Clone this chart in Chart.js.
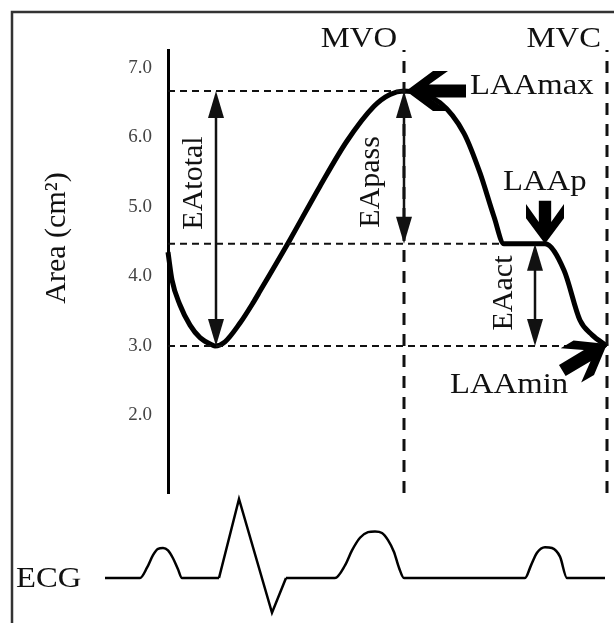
<!DOCTYPE html>
<html>
<head>
<meta charset="utf-8">
<script src="https://cdn.jsdelivr.net/npm/chart.js@4.4.0/dist/chart.umd.min.js"></script>
<style>
  body { margin: 0; background: #fff; }
  canvas { display: block; }
</style>
</head>
<body>
<canvas id="chart" width="614" height="623"></canvas>
<script>
// left atrial area over one cycle (time in arbitrary units, 0 = y axis)
const areaTime = [0, 4, 12, 22, 32, 45, 47, 57, 72, 85, 92, 122, 152, 179, 206, 222, 236, 272, 296, 312, 326, 336, 377, 396, 412, 424, 439];
const areaValues = [4.35, 3.95, 3.59, 3.30, 3.12, 3.01, 3.00, 3.06, 3.33, 3.62, 3.79, 4.53, 5.30, 5.95, 6.45, 6.62, 6.67, 6.50, 6.06, 5.49, 4.86, 4.47, 4.47, 4.09, 3.37, 3.16, 3.00];

const yTickValues = [2, 3, 4, 5, 6, 7];

// reference levels (dashed horizontals)
const levelNames = ['LAAmax', 'LAAp', 'LAAmin'];
const levelValues = [6.67, 4.47, 3.0];
const levelEnds = [236, 336, 439];

// valve events (dashed verticals)
const markerNames = ['MVO', 'MVC'];
const markerTimes = [236, 439];

// emptying spans (double arrows)
const spanNames = ['EAtotal', 'EApass', 'EAact'];
const spanTimes = [48, 236, 367];
const spanTop = [6.67, 6.67, 4.47];
const spanBottom = [3.0, 4.47, 3.0];

// ECG trace (mV), null = gap where the QRS goes
const ecgTime = [-63, -28, -21, -15, -10, -5, 0, 5, 10, 14, 51, 85, 118, 167, 177, 184, 192, 200, 207, 214, 220, 226, 231, 236, 357, 363, 369, 377, 384, 392, 399, 437];
const ecgMv = [0, 0, 0.13, 0.29, 0.37, 0.38, 0.35, 0.25, 0.11, 0, 0, null, 0, 0, 0.16, 0.35, 0.51, 0.58, 0.59, 0.57, 0.48, 0.33, 0.13, 0, 0, 0.16, 0.32, 0.39, 0.38, 0.27, 0, 0];
const qrsTime = [51, 71, 104, 118];
const qrsMv = [0, 1.0, -0.44, 0];

const serif = '"Liberation Serif", "Times New Roman", serif';
const ink = '#111';

function pts(xs, ys) {
  return xs.map((x, i) => ({x: x, y: ys[i]}));
}

let datasets = [];

for (let i = 0; i < levelValues.length; i++) {
  datasets.push({
    label: levelNames[i],
    data: pts([0, levelEnds[i]], [levelValues[i], levelValues[i]]),
    borderColor: ink,
    borderWidth: 2,
    borderDash: [7, 5],
    pointRadius: 0,
    clip: false
  });
}

for (let i = 0; i < markerTimes.length; i++) {
  datasets.push({
    label: markerNames[i],
    data: pts([markerTimes[i], markerTimes[i]], [0.885, 7.259]),
    borderColor: ink,
    borderWidth: 3,
    borderDash: [12, 9],
    pointRadius: 0,
    clip: false
  });
}

datasets.push({
  label: 'Area',
  data: pts(areaTime, areaValues),
  borderColor: '#000',
  borderWidth: 5,
  cubicInterpolationMode: 'monotone',
  pointRadius: 0,
  clip: false
});

datasets.push({
  label: 'ECG',
  data: pts(ecgTime, ecgMv),
  yAxisID: 'yEcg',
  borderColor: '#000',
  borderWidth: 2.5,
  cubicInterpolationMode: 'monotone',
  spanGaps: false,
  pointRadius: 0,
  clip: false
});

datasets.push({
  label: 'QRS',
  data: pts(qrsTime, qrsMv),
  yAxisID: 'yEcg',
  borderColor: '#000',
  borderWidth: 2.5,
  borderJoinStyle: 'miter',
  tension: 0,
  pointRadius: 0,
  clip: false
});

function hText(ctx, text, x, y, align) {
  ctx.save();
  ctx.translate(x, y);
  ctx.scale(1.09, 1);
  ctx.textAlign = align || 'left';
  ctx.textBaseline = 'alphabetic';
  ctx.fillText(text, 0, 0);
  ctx.restore();
}

function vText(ctx, text, x, y) {
  ctx.save();
  ctx.translate(x, y);
  ctx.rotate(-Math.PI / 2);
  ctx.textAlign = 'center';
  ctx.textBaseline = 'alphabetic';
  ctx.fillText(text, 0, 0);
  ctx.restore();
}

function head(ctx, x, y, dir) {
  ctx.beginPath();
  ctx.moveTo(x, y);
  ctx.lineTo(x - 8, y + dir * 27);
  ctx.lineTo(x + 8, y + dir * 27);
  ctx.closePath();
  ctx.fill();
}

function doubleArrow(ctx, x, y1, y2) {
  ctx.lineWidth = 2.5;
  ctx.beginPath();
  ctx.moveTo(x, y1 + 10);
  ctx.lineTo(x, y2 - 10);
  ctx.stroke();
  head(ctx, x, y1, 1);
  head(ctx, x, y2, -1);
}

// fat arrow, tip at (x, y), tail going off in direction ang
function bigArrow(ctx, x, y, ang, len, s) {
  const shape = [[0, 0], [27, -20], [42, -20], [23, -6.5], [len / s, -6.5], [len / s, 6.5], [23, 6.5], [42, 20], [27, 20]];
  ctx.save();
  ctx.translate(x, y);
  ctx.rotate(ang);
  ctx.scale(s, s);
  ctx.beginPath();
  shape.forEach((p, i) => i ? ctx.lineTo(p[0], p[1]) : ctx.moveTo(p[0], p[1]));
  ctx.closePath();
  ctx.fill();
  ctx.restore();
}

const annotations = {
  id: 'annotations',
  beforeDraw(chart) {
    const ctx = chart.ctx;
    ctx.save();
    ctx.strokeStyle = '#333';
    ctx.lineWidth = 2.5;
    ctx.beginPath();
    ctx.moveTo(12, 623);
    ctx.lineTo(12, 12);
    ctx.lineTo(614, 12);
    ctx.stroke();
    ctx.restore();
  },
  afterDatasetsDraw(chart) {
    const ctx = chart.ctx;
    const xs = chart.scales.x;
    const ys = chart.scales.y;
    ctx.save();
    ctx.fillStyle = ink;
    ctx.strokeStyle = ink;

    for (let i = 0; i < spanTimes.length; i++) {
      doubleArrow(ctx, xs.getPixelForValue(spanTimes[i]),
        ys.getPixelForValue(spanTop[i]), ys.getPixelForValue(spanBottom[i]));
    }

    ctx.fillStyle = '#000';
    bigArrow(ctx, xs.getPixelForValue(238), ys.getPixelForValue(levelValues[0]), 0, 60, 1);
    bigArrow(ctx, xs.getPixelForValue(377), ys.getPixelForValue(levelValues[1]), -Math.PI / 2, 43, 0.95);
    bigArrow(ctx, xs.getPixelForValue(439), ys.getPixelForValue(3.03), Math.atan2(25, -42), 52, 1);

    ctx.fillStyle = ink;
    ctx.font = '30px ' + serif;
    const xMvo = xs.getPixelForValue(markerTimes[0]);
    const xMvc = xs.getPixelForValue(markerTimes[1]);
    hText(ctx, markerNames[0], xMvo - 7, 47, 'right');
    hText(ctx, markerNames[1], xMvc - 6, 47, 'right');
    hText(ctx, levelNames[0], 470, ys.getPixelForValue(levelValues[0]) + 3);
    hText(ctx, levelNames[1], 503, 190);
    hText(ctx, levelNames[2], 450, 393);
    hText(ctx, 'ECG', 16, 587);

    vText(ctx, 'Area (cm\u00b2)', 65, 238);
    vText(ctx, spanNames[0], 202, 183);
    vText(ctx, spanNames[1], 379, 182);
    vText(ctx, spanNames[2], 512, 293);
    ctx.restore();
  }
};

// x range is set after the data limits so that the ECG points left of
// the axis are not dropped by the line controller
function fixXRange(scale) {
  scale.min = 0;
  scale.max = 444;
}

new Chart(document.getElementById('chart'), {
  type: 'line',
  data: { datasets: datasets },
  options: {
    responsive: false,
    animation: false,
    layout: { padding: { top: 50, bottom: 130, left: 0, right: 2 } },
    plugins: {
      legend: { display: false },
      tooltip: { enabled: false }
    },
    scales: {
      x: {
        type: 'linear',
        display: false,
        bounds: 'data',
        afterDataLimits: fixXRange,
        afterBuildTicks: fixXRange
      },
      y: {
        min: 0.885,
        max: 7.259,
        afterFit: (scale) => { scale.width = 168; },
        afterBuildTicks: (scale) => { scale.ticks = yTickValues.map(v => ({value: v})); },
        grid: { display: false, drawTicks: false },
        border: { display: true, color: '#000', width: 3 },
        ticks: {
          padding: 16,
          color: '#444',
          font: { family: serif, size: 19 },
          callback: (v) => v.toFixed(1)
        }
      },
      yEcg: {
        display: false,
        min: 1.076,
        max: 6.684
      }
    }
  },
  plugins: [annotations]
});
</script>
</body>
</html>
